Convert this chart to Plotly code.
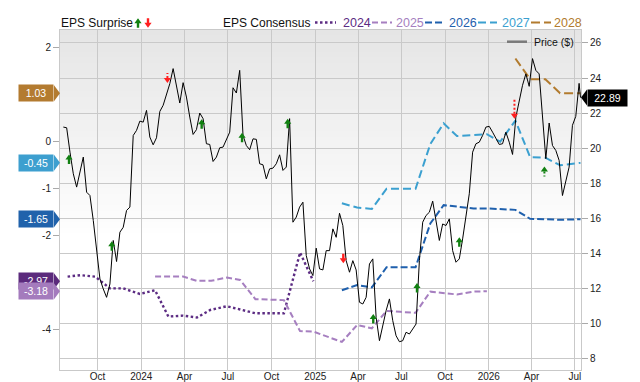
import plotly.graph_objects as go
import pandas as pd

# ---------------- data ----------------
price_start = "2023-07-21"
price_weekly = [
    21.21, 21.17, 19.78, 18.55, 17.79, 18.74, 19.50, 17.50, 17.31, 15.89,
    14.17, 12.56, 11.99, 11.51, 12.27, 14.75, 13.55, 15.22, 15.50, 16.46,
    16.65, 20.73, 21.02, 21.55, 21.49, 22.16, 20.64, 20.20, 20.60, 22.10,
    22.45, 23.02, 23.68, 24.54, 23.59, 22.58, 23.74, 22.92, 21.78, 20.79,
    21.06, 22.01, 21.69, 20.26, 20.22, 19.25, 19.50, 20.03, 20.07, 20.45,
    20.92, 23.45, 23.15, 24.44,
    20.73, 20.16, 19.92, 20.54, 20.51, 19.12, 19.06, 18.26, 18.83, 18.87,
    19.12, 19.63, 18.74, 18.93, 21.69,
    15.79, 16.08, 16.65, 16.93, 13.89, 13.13, 12.75, 14.31, 13.13, 13.07,
    14.17, 14.17, 15.41, 14.93, 16.30, 15.60, 13.60, 12.94, 13.60, 13.07,
    11.23, 11.13, 11.51, 13.41, 13.70, 10.37, 9.04, 9.99, 10.75, 11.42,
    10.18, 9.32, 8.98, 9.04, 9.52, 9.42, 9.71, 9.99,
    13.60, 15.79, 16.17, 16.36, 16.99, 15.89, 14.75, 15.69, 15.60, 15.98,
    14.17, 13.51, 13.70, 14.84, 16.17, 17.41, 19.78, 20.26, 20.35, 20.73,
    21.21, 21.25, 20.92, 20.54, 20.22, 20.26, 20.92, 20.35, 19.65, 21.78,
    22.64, 23.59, 24.24, 23.53, 25.11, 24.44, 24.24, 22.00, 19.41, 21.44,
    20.16, 19.88, 19.31, 17.31, 18.17, 18.93, 21.31, 21.82, 23.70,
]
price_last_date = "2026-07-13"
price_last = 22.89

eps24_dates = ["2023-07-30", "2023-08-26", "2023-09-26", "2023-10-27", "2023-11-24",
               "2023-12-29", "2024-01-30", "2024-02-27", "2024-03-29", "2024-04-27",
               "2024-05-25", "2024-06-29", "2024-07-27", "2024-08-28", "2024-10-27",
               "2024-11-30", "2024-12-28"]
eps24 = [-2.87, -2.84, -2.87, -3.12, -3.12, -3.24, -3.16, -3.72, -3.70, -3.74,
         -3.58, -3.50, -3.57, -3.65, -3.65, -2.36, -2.97]

eps25_dates = ["2024-01-30", "2024-03-29", "2024-04-27", "2024-05-27", "2024-06-29",
               "2024-07-27", "2024-08-28", "2024-10-27", "2024-11-30", "2024-12-28",
               "2025-02-26", "2025-03-30", "2025-04-30", "2025-05-31", "2025-06-29",
               "2025-07-31", "2025-08-31", "2025-09-28", "2025-10-26", "2025-11-30",
               "2025-12-28"]
eps25 = [-2.87, -2.87, -2.96, -2.96, -2.89, -2.94, -3.35, -3.37, -4.03, -4.04,
         -4.26, -3.90, -3.97, -3.60, -3.62, -3.64, -3.19, -3.22, -3.25, -3.19, -3.18]

eps26_dates = ["2025-02-26", "2025-03-30", "2025-04-30", "2025-05-31", "2025-06-29",
               "2025-07-31", "2025-08-31", "2025-09-28", "2025-10-26", "2025-11-30",
               "2025-12-28", "2026-01-25", "2026-02-26", "2026-03-29", "2026-04-30",
               "2026-05-31", "2026-07-13"]
eps26 = [-3.16, -3.05, -3.10, -2.67, -2.67, -2.67, -1.74, -1.35, -1.38, -1.42,
         -1.42, -1.43, -1.45, -1.64, -1.65, -1.66, -1.65]

eps27_dates = eps26_dates
eps27 = [-1.31, -1.40, -1.43, -1.00, -1.00, -1.00, -0.05, 0.39, 0.12, 0.15,
         0.16, 0.00, 0.45, -0.33, -0.34, -0.50, -0.45]

eps28_dates = ["2026-02-26", "2026-03-29", "2026-04-30", "2026-05-31", "2026-07-13"]
eps28 = [1.77, 1.33, 1.33, 1.03, 1.03]

surprise_dates = ["2023-08-02", "2023-10-31", "2024-02-25", "2024-05-07", "2024-07-31",
                  "2024-11-04", "2025-03-01", "2025-05-03", "2025-08-03", "2025-10-31",
                  "2026-02-24", "2026-04-28"]
surprise_price = [19.65, 14.71, 23.72, 21.65, 20.89, 21.69, 13.45, 10.56, 12.33, 14.93,
                  21.69, 18.97]
surprise_dir = ["up", "up", "down", "up", "up", "up", "down", "up", "up", "up", "down", "up"]
surprise_stem = ["solid", "solid", "dotshort", "solid", "solid", "solid", "solid", "solid",
                 "solid", "solid", "dotlong", "dotshort"]

x_tick_dates = ["2023-10-01", "2024-01-01", "2024-04-01", "2024-07-01", "2024-10-01",
                "2025-01-01", "2025-04-01", "2025-07-01", "2025-10-01", "2026-01-01",
                "2026-04-01", "2026-07-01"]
x_tick_labels = ["Oct", "2024", "Apr", "Jul", "Oct", "2025", "Apr", "Jul", "Oct",
                 "2026", "Apr", "Jul"]
eps_ticks = [-4, -2, -1, 0, 2]
price_ticks = [8, 10, 12, 14, 16, 18, 20, 22, 24, 26]

series_names = ["2024", "2025", "2026", "2027", "2028"]

# ---------------- styles ----------------
FONT = "Liberation Sans, Arial, sans-serif"
GRID = "#c9c9c9"
GREEN = "#118011"
RED = "#ff1f1f"
colors = {"2024": "#5c2c83", "2025": "#a67fc0", "2026": "#1f60ad",
          "2027": "#3ba0d0", "2028": "#b27b2e"}
flag_colors = {"2024": "#5b2a7c", "2025": "#a47bbd", "2026": "#2062ab",
               "2027": "#3d9fcf", "2028": "#b37b30"}
dashes = {"2024": "2.5px,2.5px", "2025": "6px,3px", "2026": "7px,3px",
          "2027": "8px,4px", "2028": "9px,4px"}
widths = {"2024": 2.4, "2025": 2, "2026": 2, "2027": 2, "2028": 2}
stem_len = {"dotshort": 10, "dotlong": 19}

L, R, T, B = 60, 59, 30, 12
W, H = 640, 382
PW, PH = W - L - R, H - T - B


def pxx(px):
    return (px - L) / PW


def pxy(py):
    return (H - B - py) / PH


series = {
    "2024": (eps24_dates, eps24),
    "2025": (eps25_dates, eps25),
    "2026": (eps26_dates, eps26),
    "2027": (eps27_dates, eps27),
    "2028": (eps28_dates, eps28),
}

fig = go.Figure()

for name in series_names:
    d, v = series[name]
    fig.add_trace(go.Scatter(
        x=pd.to_datetime(d), y=v, mode="lines", yaxis="y",
        line=dict(color=colors[name], width=widths[name], dash=dashes[name]),
        hoverinfo="skip", name=name))

price_dates = list(pd.date_range(price_start, periods=len(price_weekly), freq="7D"))
price_dates.append(pd.Timestamp(price_last_date))
fig.add_trace(go.Scatter(
    x=price_dates, y=price_weekly + [price_last], mode="lines", yaxis="y2",
    line=dict(color="#000000", width=1), hoverinfo="skip", name="Price ($)"))

shapes = []
annotations = []

# gradient background
N = 60
for i in range(N):
    t0 = i / N
    t1 = (i + 1) / N
    tc = (t0 + t1) / 2
    v = int(round(229 + 26 * min(1.0, tc / 0.62)))
    shapes.append(dict(type="rect", xref="paper", yref="paper", x0=0, x1=1,
                       y0=1 - t1, y1=1 - t0 + 0.002, layer="below",
                       line=dict(width=0), fillcolor=f"rgb({v},{v},{v})"))


def arrow_path(direction, hh=5.0, hw=3.6, sh=4.5, sw=1.2, stem=True, off=0.0):
    s = 1 if direction == "up" else -1
    pts = [(0, 0), (hw, -s * hh)]
    if stem:
        pts += [(sw, -s * hh), (sw, -s * (hh + sh)), (-sw, -s * (hh + sh)), (-sw, -s * hh)]
    pts += [(-hw, -s * hh)]
    return "M" + " L".join(f"{x:.2f},{y + off:.2f}" for x, y in pts) + " Z"


# surprise arrows
for d, p, dr, st in zip(surprise_dates, surprise_price, surprise_dir, surprise_stem):
    col = GREEN if dr == "up" else RED
    shapes.append(dict(type="path", xref="x", yref="y2", xsizemode="pixel",
                       ysizemode="pixel", xanchor=d, yanchor=p,
                       path=arrow_path(dr, stem=(st == "solid")),
                       fillcolor=col, line=dict(width=0), layer="above"))
    if st != "solid":
        s = 1 if dr == "up" else -1
        shapes.append(dict(type="line", xref="x", yref="y2", x0=d, x1=d,
                           ysizemode="pixel", yanchor=p, y0=-s * 5, y1=-s * stem_len[st],
                           line=dict(color=col, width=2, dash="2px,2px"), layer="above"))

# left flags (final consensus)
for name in series_names:
    d, v = series[name]
    val = v[-1]
    shapes.append(dict(type="path", xref="paper", yref="y", xsizemode="pixel",
                       ysizemode="pixel", xanchor=0, yanchor=val,
                       path="M-6,8 L0,0 L-6,-8 Z", fillcolor=flag_colors[name],
                       line=dict(width=0), layer="above"))
for name in series_names:
    d, v = series[name]
    val = v[-1]
    annotations.append(dict(xref="paper", yref="y", x=pxx(54.2), y=val,
                            xanchor="right", yanchor="middle", text=f"{val:.2f}",
                            showarrow=False, width=34, height=16, borderpad=0,
                            bgcolor=flag_colors[name], align="center",
                            font=dict(family=FONT, size=10.5, color="white")))

# right flag (last price)
shapes.append(dict(type="path", xref="paper", yref="y2", xsizemode="pixel",
                   ysizemode="pixel", xanchor=1, yanchor=price_last,
                   path="M0,0 L6,8 L6,-8 Z", fillcolor="#000000",
                   line=dict(width=0), layer="above"))
annotations.append(dict(xref="paper", yref="y2", x=1 + 5.5 / PW, y=price_last,
                        xanchor="left", yanchor="middle", text=f"{price_last:.2f}",
                        showarrow=False, width=39, height=16, borderpad=0,
                        bgcolor="#000000", align="center",
                        font=dict(family=FONT, size=10.5, color="white")))

# top legend
LY = 23
annotations.append(dict(xref="paper", yref="paper", x=pxx(59), y=pxy(LY),
                        xanchor="left", yanchor="middle", text="EPS Surprise",
                        showarrow=False, font=dict(family=FONT, size=12, color="#111")))
shapes.append(dict(type="path", xref="paper", yref="paper", xsizemode="pixel",
                   ysizemode="pixel", xanchor=pxx(138), yanchor=pxy(LY),
                   path=arrow_path("up", off=4.8), fillcolor=GREEN, line=dict(width=0)))
shapes.append(dict(type="path", xref="paper", yref="paper", xsizemode="pixel",
                   ysizemode="pixel", xanchor=pxx(148), yanchor=pxy(LY),
                   path=arrow_path("down", off=-4.8), fillcolor=RED, line=dict(width=0)))
annotations.append(dict(xref="paper", yref="paper", x=pxx(220.5), y=pxy(LY),
                        xanchor="left", yanchor="middle", text="EPS Consensus",
                        showarrow=False, font=dict(family=FONT, size=12, color="#111")))
leg_pos = {"2024": (315, 336, 341), "2025": (372, 392, 394), "2026": (425, 445, 447),
           "2027": (478, 497, 500), "2028": (531, 551, 552)}
for name in series_names:
    a, b, tx = leg_pos[name]
    shapes.append(dict(type="line", xref="paper", yref="paper", x0=pxx(a), x1=pxx(b),
                       y0=pxy(LY - 0.5), y1=pxy(LY - 0.5),
                       line=dict(color=colors[name], width=2.4 if name == "2024" else 2.2,
                                 dash=dashes[name])))
    annotations.append(dict(xref="paper", yref="paper", x=pxx(tx), y=pxy(LY),
                            xanchor="left", yanchor="middle", text=name, showarrow=False,
                            font=dict(family=FONT, size=12.5, color=colors[name])))

# price legend inside plot
shapes.append(dict(type="line", xref="paper", yref="paper", x0=pxx(507), x1=pxx(527),
                   y0=pxy(41.7), y1=pxy(41.7), line=dict(color="#7a7a7a", width=2.5)))
annotations.append(dict(xref="paper", yref="paper", x=pxx(531.5), y=pxy(42),
                        xanchor="left", yanchor="middle", text="Price ($)",
                        showarrow=False, font=dict(family=FONT, size=10.5, color="#111")))

fig.update_layout(
    width=W, height=H,
    margin=dict(l=L, r=R, t=T, b=B, pad=0),
    paper_bgcolor="white", plot_bgcolor="rgba(0,0,0,0)",
    showlegend=False,
    font=dict(family=FONT, size=10, color="#222"),
    xaxis=dict(type="date", range=["2023-07-14", "2026-07-14"],
               tickvals=x_tick_dates, ticktext=x_tick_labels,
               showgrid=True, gridcolor=GRID, gridwidth=1, ticks="",
               ticklabelstandoff=-3,
               showline=True, linecolor=GRID, linewidth=1, mirror=True,
               zeroline=False, automargin=False,
               tickfont=dict(family=FONT, size=10, color="#222")),
    yaxis=dict(range=[-4.857, 2.377], tickvals=eps_ticks,
               ticktext=[str(t) for t in eps_ticks],
               showgrid=False, zeroline=False, ticks="outside", ticklen=6,
               tickcolor="#aaaaaa", showline=True, linecolor=GRID, linewidth=1,
               automargin=False, tickfont=dict(family=FONT, size=10, color="#222")),
    yaxis2=dict(range=[7.37, 26.74], tickvals=price_ticks, overlaying="y",
                side="right", showgrid=True, gridcolor=GRID, gridwidth=1,
                zeroline=False, ticks="outside", ticklen=6, tickcolor="#aaaaaa",
                showline=True, linecolor=GRID, linewidth=1, automargin=False,
                tickfont=dict(family=FONT, size=10, color="#222")),
    shapes=shapes,
    annotations=annotations,
)

fig.write_html("out.html", config={"displayModeBar": False})
